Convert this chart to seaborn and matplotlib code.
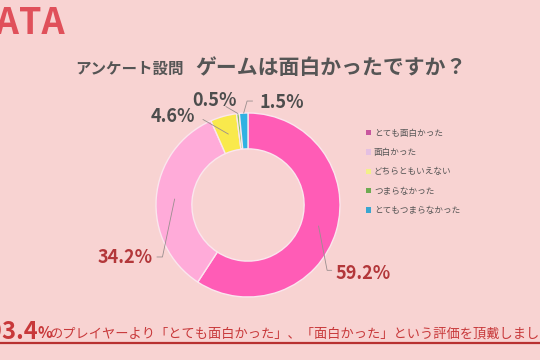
import matplotlib
matplotlib.use("Agg")

import numpy as np
import matplotlib.pyplot as plt
import seaborn as sns
from matplotlib.patches import Patch

# データ
answers = ["とても面白かった", "面白かった", "どちらともいえない", "つまらなかった", "とてもつまらなかった"]
shares = [59.2, 34.2, 4.6, 0.5, 1.5]
wedge_colors = ["#ff5cb6", "#ffabd9", "#f9e94c", "#8cc55a", "#30b2e2"]
legend_colors = ["#c8569e", "#e4c0e2", "#f2f08a", "#6eaa52", "#3aa6d0"]
label_colors = ["#b3373a", "#b3373a", "#4d4d4d", "#4d4d4d", "#4d4d4d"]

# ラベル位置 (ドーナツ半径=1 の座標) と引き出し線の折れ点
label_pos = [(1.25, -0.74), (-1.34, -0.57), (-0.815, 0.96), (-0.36, 1.14), (0.37, 1.11)]
elbows = [[(0.86, -0.71), (0.91, -0.71)],
          [(-0.93, -0.565), (-0.99, -0.565)],
          [(-0.49, 0.93)],
          [(-0.24, 1.07)],
          [(-0.01, 1.13), (0.05, 1.13)]]
anchor_r = [0.8, 0.8, 0.8, 1.0, 1.0]

title_small = "アンケート設問"
title_big = "ゲームは面白かったですか？"
summary_big = "93.4"
summary_pct = "%"
summary_rest = "のプレイヤーより「とても面白かった」、「面白かった」という評価を頂戴しました"

BG = "#f8d3d2"
sns.set_theme(style="white")
plt.rcParams["font.family"] = ["Noto Sans CJK JP", "DejaVu Sans"]

W, H = 540, 360
fig = plt.figure(figsize=(W / 100, H / 100), dpi=100, facecolor=BG)

cx, cy, R = 248, 205, 92
ax = fig.add_axes([(cx - R) / W, (H - cy - R) / H, 2 * R / W, 2 * R / H])
ax.set_facecolor(BG)
ax.pie(shares, colors=wedge_colors, startangle=90, counterclock=False, radius=1,
       wedgeprops=dict(width=0.39, edgecolor="#fbe6ee", linewidth=1.0))
ax.set_xlim(-1, 1)
ax.set_ylim(-1, 1)
ax.set_aspect("equal")
ax.axis("off")

# 値ラベルと引き出し線
cum = np.cumsum([0] + shares[:-1])
for i, v in enumerate(shares):
    theta = np.deg2rad(90 - 360 * (cum[i] + v / 2) / 100)
    pts = [(anchor_r[i] * np.cos(theta), anchor_r[i] * np.sin(theta))] + elbows[i]
    xs, ys = zip(*pts)
    ax.plot(xs, ys, color="#9a8e8e", lw=0.6, clip_on=False)
    ax.text(label_pos[i][0], label_pos[i][1], f"{v:.1f}%", color=label_colors[i],
            fontsize=13, fontweight="bold", ha="center", va="center", clip_on=False)

# 凡例
handles = [Patch(facecolor=c, edgecolor="none") for c in legend_colors]
fig.legend(handles, answers, loc="upper left", bbox_to_anchor=(358 / W, 1 - 121 / H),
           frameon=False, fontsize=6.2, handlelength=0.6, handleheight=0.6,
           handletextpad=0.35, labelspacing=1.2, labelcolor="#555555")

# タイトル
fig.text(75 / W, 1 - 69 / H, title_small, fontsize=11.2, fontweight="bold",
         color="#555555", ha="left", va="center")
fig.text(195 / W, 1 - 67 / H, title_big, fontsize=15, fontweight="bold",
         color="#555555", ha="left", va="center")
fig.text(65 / W, 1 - 24 / H, "DATA", fontsize=26, fontweight="bold",
         color="#e0505a", ha="right", va="center")

# まとめ文
fig.text(38 / W, 1 - 332 / H, summary_big, fontsize=17, fontweight="bold",
         color="#c8383a", ha="right", va="center")
fig.text(37 / W, 1 - 333 / H, summary_pct, fontsize=11, fontweight="bold",
         color="#c8383a", ha="left", va="center")
fig.text(50 / W, 1 - 334 / H, summary_rest, fontsize=9.5,
         color="#c8383a", ha="left", va="center")
fig.add_artist(plt.Line2D([0, 1], [1 - 343 / H, 1 - 343 / H], color="#b83030", lw=1.6))

fig.savefig("out.png", dpi=100, facecolor=BG)
